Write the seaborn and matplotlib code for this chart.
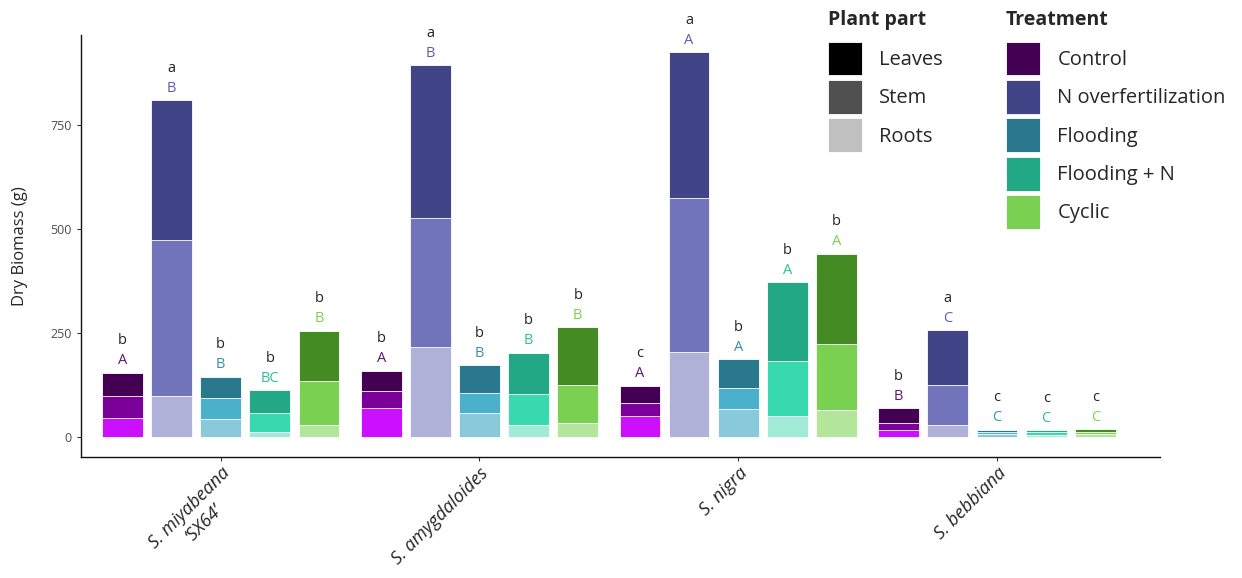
import matplotlib
matplotlib.use("Agg")
import matplotlib.pyplot as plt
from matplotlib.patches import Patch
import seaborn as sns
import pandas as pd
import numpy as np

# -----------------------------------------------------------------------
# Data
# -----------------------------------------------------------------------
SPECIES = ["S. miyabeana\n\u2018SX64\u2019", "S. amygdaloides", "S. nigra", "S. bebbiana"]
TREATMENTS = ["Control", "N overfertilization", "Flooding", "Flooding + N", "Cyclic"]

# one row per species, one column per treatment (g)
ROOTS = [
    [46, 99, 44, 13, 28],
    [71, 216, 58, 30, 34],
    [50, 204, 67, 50, 66],
    [18, 30, 8, 5, 7],
]
STEM = [
    [53, 375, 50, 44, 107],
    [40, 311, 49, 73, 92],
    [32, 370, 52, 133, 158],
    [16, 96, 5, 6, 6],
]
LEAVES = [
    [56, 335, 51, 55, 120],
    [48, 366, 65, 100, 138],
    [41, 351, 68, 189, 217],
    [35, 131, 5, 5, 6],
]

# Tukey letters: lowercase = between treatments, uppercase = between species
LOWER = [
    ["b", "a", "b", "b", "b"],
    ["b", "a", "b", "b", "b"],
    ["c", "a", "b", "b", "b"],
    ["b", "a", "c", "c", "c"],
]
UPPER = [
    ["A", "B", "B", "BC", "B"],
    ["A", "B", "B", "B", "B"],
    ["A", "A", "A", "A", "A"],
    ["B", "C", "C", "C", "C"],
]

PART_LABELS = ["Leaves", "Stem", "Roots"]
PART_COLORS = ["#000000", "#505050", "#c0c0c0"]

# colours per treatment for each plant part
LEAF_COLORS = ["#440154", "#414487", "#2a788e", "#22a884", "#458b24"]
STEM_COLORS = ["#7b0099", "#7174ba", "#4bb0cb", "#38d9af", "#7ad151"]
ROOT_COLORS = ["#cc0fff", "#b0b1d8", "#8ac9da", "#a0ead6", "#b3e59b"]
LEGEND_COLORS = ["#440154", "#414487", "#2a788e", "#22a884", "#7ad151"]
LETTER_COLORS = ["#5c1a6e", "#5a5ea8", "#3a8fa8", "#2dbf95", "#7ad151"]

# -----------------------------------------------------------------------
# Long table
# -----------------------------------------------------------------------
rows = []
for i, sp in enumerate(SPECIES):
    for j, tr in enumerate(TREATMENTS):
        r, s, l = ROOTS[i][j], STEM[i][j], LEAVES[i][j]
        rows.append({"species": sp, "treatment": tr,
                     "roots": r, "roots_stem": r + s, "total": r + s + l})
df = pd.DataFrame(rows)

sns.set_theme(style="white")
plt.rcParams["font.family"] = ["Open Sans", "DejaVu Sans"]

fig = plt.figure(figsize=(12.42, 5.78), dpi=100)
ax = fig.add_axes([0.0652, 0.2093, 0.8688, 0.7301])

common = dict(data=df, x="species", hue="treatment", order=SPECIES,
              hue_order=TREATMENTS, width=0.95, gap=0.17, dodge=True,
              errorbar=None, edgecolor="white", linewidth=0.6,
              legend=False, ax=ax, saturation=1)
sns.barplot(y="total", palette=LEAF_COLORS, **common)
sns.barplot(y="roots_stem", palette=STEM_COLORS, **common)
sns.barplot(y="roots", palette=ROOT_COLORS, **common)

# letters above bars
for i in range(len(SPECIES)):
    for j in range(len(TREATMENTS)):
        xpos = i + (j - 2) * 0.19
        top = df.loc[i * len(TREATMENTS) + j, "total"]
        ax.text(xpos, top + 29, UPPER[i][j], ha="center", va="center",
                fontsize=10.5, color=LETTER_COLORS[j])
        ax.text(xpos, top + 77, LOWER[i][j], ha="center", va="center",
                fontsize=10.5, color="#222222")

ax.set_xlim(-0.54, 3.63)
ax.set_ylim(-48, 966)
ax.set_yticks([0, 250, 500, 750])
ax.tick_params(axis="y", labelsize=9, labelcolor="#4d4d4d", length=3,
               width=0.8, color="#333333", left=True)
ax.tick_params(axis="x", length=3, width=0.8, color="#333333", bottom=True,
               pad=2)
ax.set_xticks(range(len(SPECIES)))
ax.set_xticklabels(SPECIES, rotation=45, ha="right", rotation_mode="anchor",
                   fontsize=13, style="italic", multialignment="center")
ax.set_xlabel("")
ax.set_ylabel("Dry Biomass (g)", fontsize=12, labelpad=16)

for side in ["top", "right"]:
    ax.spines[side].set_visible(False)
for side in ["left", "bottom"]:
    ax.spines[side].set_color("#111111")
    ax.spines[side].set_linewidth(1.0)

# legends (square keys, bold left-aligned titles)
leg_kw = dict(frameon=False, fontsize=14.5, handlelength=1.69, handleheight=2.22,
              labelspacing=0.22, handletextpad=0.85, borderpad=0.8,
              borderaxespad=0, alignment="left", loc="upper left",
              bbox_transform=fig.transFigure)
part_handles = [Patch(facecolor=c, edgecolor="white", linewidth=0.6) for c in PART_COLORS]
leg1 = ax.legend(part_handles, PART_LABELS, title="Plant part",
                 bbox_to_anchor=(812 / 1242, 1 + 6 / 578), **leg_kw)
leg1.get_title().set_fontweight("bold")
leg1.get_title().set_fontsize(14)
leg1._legend_box.sep = 8.2  # more room under the title
ax.add_artist(leg1)

treat_handles = [Patch(facecolor=c, edgecolor="white", linewidth=0.6) for c in LEGEND_COLORS]
leg2 = ax.legend(treat_handles, TREATMENTS, title="Treatment",
                 bbox_to_anchor=(990 / 1242, 1 + 6 / 578), **leg_kw)
leg2.get_title().set_fontweight("bold")
leg2.get_title().set_fontsize(14)
leg2._legend_box.sep = 8.2

fig.savefig("out.png", dpi=100)
plt.close(fig)
